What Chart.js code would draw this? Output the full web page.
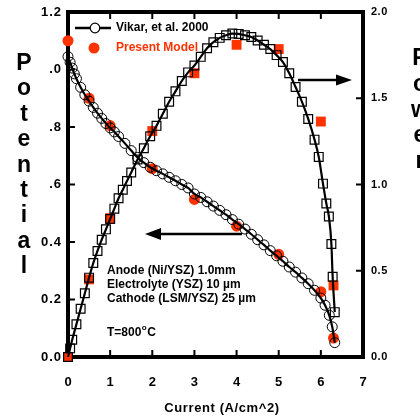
<!DOCTYPE html>
<html lang="en">
<head>
  <meta charset="UTF-8" />
  <title>Potential and Power vs Current</title>
  <script src="https://cdn.jsdelivr.net/npm/chart.js"></script>
  <style>
    body {
      margin: 0;
      background-color: #fff;
    }
    canvas {
      display: block;
    }
  </style>
</head>
<body>
  <canvas id="cellChart" width="420" height="417"></canvas>

  <script>
    // Vikar, et al. 2000 - potential (open circles)
    const vikarCurrentV = [0, 0.05, 0.1, 0.15, 0.2, 0.3, 0.4, 0.5, 0.6, 0.7, 0.8, 0.9, 1.0, 1.1, 1.2, 1.35, 1.5, 1.65, 1.8, 1.95,
      2.1, 2.25, 2.4, 2.55, 2.7, 2.85, 3.0, 3.15, 3.3, 3.45, 3.6, 3.75, 3.9, 4.05, 4.2, 4.35, 4.5, 4.65, 4.8, 4.95,
      5.1, 5.25, 5.4, 5.55, 5.7, 5.85, 6.0, 6.1, 6.2, 6.27, 6.33];
    const vikarPotential = [1.045, 1.025, 1.005, 0.985, 0.968, 0.938, 0.912, 0.89, 0.868, 0.848, 0.83, 0.812, 0.797, 0.783, 0.767, 0.743, 0.718, 0.694, 0.676, 0.66,
      0.648, 0.637, 0.625, 0.613, 0.6, 0.588, 0.567, 0.555, 0.54, 0.525, 0.51, 0.495, 0.478, 0.462, 0.445, 0.427, 0.408, 0.39, 0.37, 0.352,
      0.333, 0.313, 0.295, 0.275, 0.255, 0.232, 0.205, 0.18, 0.145, 0.105, 0.05];

    // Vikar, et al. 2000 - power density (open squares)
    const vikarCurrentP = [0, 0.05, 0.1, 0.2, 0.3, 0.4, 0.5, 0.6, 0.7, 0.8, 0.9, 1.0, 1.1, 1.2, 1.3, 1.4, 1.5, 1.65, 1.8, 1.95,
      2.1, 2.25, 2.4, 2.55, 2.7, 2.85, 3.0, 3.15, 3.3, 3.45, 3.6, 3.75, 3.9, 4.05, 4.2, 4.35, 4.5, 4.65, 4.8, 4.95,
      5.1, 5.25, 5.4, 5.55, 5.7, 5.85, 5.95, 6.05, 6.13, 6.19, 6.25, 6.28, 6.33];
    const vikarPower = [0, 0.05, 0.1, 0.19, 0.28, 0.37, 0.46, 0.545, 0.615, 0.68, 0.74, 0.8, 0.86, 0.92, 0.97, 1.02, 1.07, 1.145, 1.21, 1.28,
      1.34, 1.41, 1.48, 1.54, 1.6, 1.65, 1.69, 1.74, 1.79, 1.825, 1.85, 1.865, 1.875, 1.873, 1.865, 1.855, 1.835, 1.81, 1.785, 1.75,
      1.71, 1.645, 1.565, 1.48, 1.38, 1.26, 1.16, 1.005, 0.89, 0.815, 0.655, 0.465, 0.26];

    // Present Model
    const modelCurrent = [0, 0.5, 1, 2, 3, 4, 5, 6, 6.3];
    const modelPotential = [1.1, 0.9, 0.805, 0.655, 0.548, 0.455, 0.357, 0.227, 0.066];
    const modelPower = [0, 0.45, 0.805, 1.31, 1.645, 1.81, 1.785, 1.365, 0.415];

    // axis ticks
    const xTicks = [0, 1, 2, 3, 4, 5, 6, 7];
    const yTicks = [0, 0.2, 0.4, 0.6, 0.8, 1.0, 1.2];
    const yTickLabels = ['0.0', '0.2', '0.4', '.6', '.8', '.0', '1.2'];
    const y2Ticks = [0, 0.5, 1.0, 1.5, 2.0];
    const y2TickLabels = ['0.0', '0.5', '1.0', '1.5', '2.0'];

    const RED = '#ff3300';
    const FONT = "'Liberation Sans', Arial, sans-serif";

    const pairs = (xs, ys) => xs.map((x, i) => ({ x: x, y: ys[i] }));

    const axesPlugin = {
      id: 'axes',
      beforeDatasetsDraw(chart) {
        const { ctx, chartArea: a, scales } = chart;
        ctx.save();
        ctx.strokeStyle = '#000';
        ctx.lineWidth = 4;
        ctx.strokeRect(a.left, a.top, a.right - a.left, a.bottom - a.top);

        // inward ticks on all four sides
        ctx.lineWidth = 2;
        ctx.beginPath();
        xTicks.slice(1, -1).forEach(v => {
          const px = scales.x.getPixelForValue(v);
          ctx.moveTo(px, a.bottom); ctx.lineTo(px, a.bottom - 7);
          ctx.moveTo(px, a.top); ctx.lineTo(px, a.top + 7);
        });
        yTicks.slice(1, -1).forEach(v => {
          const py = scales.y.getPixelForValue(v);
          ctx.moveTo(a.left, py); ctx.lineTo(a.left + 7, py);
        });
        y2Ticks.slice(1, -1).forEach(v => {
          const py = scales.y2.getPixelForValue(v);
          ctx.moveTo(a.right, py); ctx.lineTo(a.right - 7, py);
        });
        ctx.stroke();

        ctx.fillStyle = '#000';
        ctx.letterSpacing = '1px';
        ctx.font = 'bold 13px ' + FONT;
        ctx.textAlign = 'center';
        ctx.textBaseline = 'middle';
        xTicks.forEach(v => {
          ctx.fillText(String(v), scales.x.getPixelForValue(v) + 0.5, 382);
        });
        ctx.textAlign = 'right';
        yTicks.forEach((v, i) => {
          ctx.fillText(yTickLabels[i], 62, scales.y.getPixelForValue(v));
        });
        ctx.letterSpacing = '0.5px';
        ctx.font = 'bold 11px ' + FONT;
        ctx.textAlign = 'left';
        y2Ticks.forEach((v, i) => {
          ctx.fillText(y2TickLabels[i], 371, scales.y2.getPixelForValue(v));
        });
        ctx.restore();
      },
      afterDraw(chart) {
        const { ctx } = chart;
        ctx.save();
        ctx.fillStyle = '#000';
        ctx.strokeStyle = '#000';

        // axis titles
        ctx.letterSpacing = '0.6px';
        ctx.font = 'bold 13px ' + FONT;
        ctx.textAlign = 'center';
        ctx.textBaseline = 'middle';
        ctx.fillText('Current (A/cm^2)', 222, 408);
        ctx.letterSpacing = '0px';

        ctx.font = 'bold 23px ' + FONT;
        ctx.textBaseline = 'alphabetic';
        'Potential'.split('').forEach((ch, i) => ctx.fillText(ch, 24, 70 + i * 25.4));
        'Power'.split('').forEach((ch, i) => ctx.fillText(ch, 420, 65 + i * 25.8));

        // legend
        ctx.lineWidth = 2.5;
        ctx.beginPath();
        ctx.moveTo(75, 28); ctx.lineTo(111, 28);
        ctx.stroke();
        ctx.fillStyle = '#fff';
        ctx.lineWidth = 1.2;
        ctx.beginPath();
        ctx.arc(95, 28, 4.8, 0, Math.PI * 2);
        ctx.fill();
        ctx.stroke();
        ctx.fillStyle = RED;
        ctx.beginPath();
        ctx.arc(94, 48, 5.5, 0, Math.PI * 2);
        ctx.fill();

        ctx.font = 'bold 12px ' + FONT;
        ctx.textAlign = 'left';
        ctx.textBaseline = 'middle';
        ctx.fillStyle = '#000';
        ctx.fillText('Vikar, et al. 2000', 116, 28);
        ctx.fillStyle = RED;
        ctx.fillText('Present Model', 116, 48);

        // notes
        ctx.fillStyle = '#000';
        ctx.fillText('Anode (Ni/YSZ) 1.0mm', 107, 271);
        ctx.fillText('Electrolyte (YSZ) 10 \u00b5m', 107, 285);
        ctx.fillText('Cathode (LSM/YSZ) 25 \u00b5m', 107, 299);
        const t = 'T=800';
        ctx.fillText(t, 107, 333);
        let tx = 107 + ctx.measureText(t).width;
        ctx.font = 'bold 8px ' + FONT;
        ctx.fillText('o', tx + 0.5, 328);
        tx += ctx.measureText('o').width + 1;
        ctx.font = 'bold 12px ' + FONT;
        ctx.fillText('C', tx, 333);

        // arrows
        ctx.lineWidth = 2.5;
        ctx.beginPath();
        ctx.moveTo(242, 234); ctx.lineTo(155, 234);
        ctx.moveTo(298, 80); ctx.lineTo(342, 80);
        ctx.stroke();
        ctx.beginPath();
        ctx.moveTo(145, 234); ctx.lineTo(161, 228); ctx.lineTo(161, 240); ctx.closePath();
        ctx.moveTo(352, 80); ctx.lineTo(336, 74.5); ctx.lineTo(336, 85.5); ctx.closePath();
        ctx.fill();
        ctx.restore();
      }
    };

    const ctx = document.getElementById('cellChart').getContext('2d');
    const chart = new Chart(ctx, {
      type: 'line',
      data: {
        datasets: [
          {
            label: 'Vikar, et al. 2000',
            data: pairs(vikarCurrentV, vikarPotential),
            yAxisID: 'y',
            borderColor: '#000',
            borderWidth: 2.2,
            cubicInterpolationMode: 'monotone',
            pointStyle: 'circle',
            pointRadius: 5,
            pointBorderWidth: 1,
            pointBorderColor: '#000',
            pointBackgroundColor: 'transparent',
            clip: false
          },
          {
            label: 'Vikar power',
            data: pairs(vikarCurrentP, vikarPower),
            yAxisID: 'y2',
            borderColor: '#000',
            borderWidth: 2.2,
            cubicInterpolationMode: 'monotone',
            pointStyle: 'rect',
            pointRadius: 6.2,
            pointBorderWidth: 1.2,
            pointBorderColor: '#000',
            pointBackgroundColor: 'transparent',
            clip: false
          },
          {
            label: 'Present Model',
            data: pairs(modelCurrent, modelPotential),
            yAxisID: 'y',
            showLine: false,
            pointStyle: 'circle',
            pointRadius: 5.5,
            pointBorderWidth: 0,
            pointBackgroundColor: RED,
            clip: false
          },
          {
            label: 'Present Model power',
            data: pairs(modelCurrent, modelPower),
            yAxisID: 'y2',
            showLine: false,
            pointStyle: 'rect',
            pointRadius: 7,
            pointBorderWidth: 0,
            pointBackgroundColor: RED,
            clip: false
          }
        ]
      },
      options: {
        responsive: false,
        animation: false,
        layout: { padding: { left: 68, right: 57, top: 12, bottom: 60 } },
        plugins: {
          legend: { display: false },
          tooltip: { enabled: false }
        },
        scales: {
          x: { type: 'linear', min: 0, max: 7, display: false },
          y: { min: 0, max: 1.2, display: false },
          y2: { min: 0, max: 2, display: false }
        }
      },
      plugins: [axesPlugin]
    });
  </script>
</body>
</html>
